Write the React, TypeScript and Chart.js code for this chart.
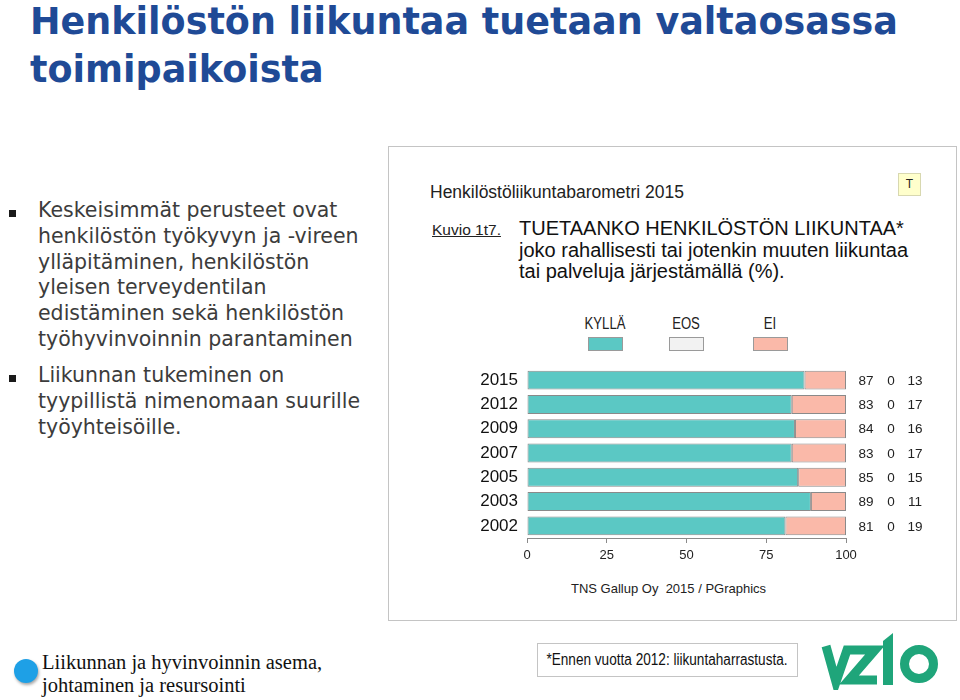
import React, { useEffect, useRef } from "react";
import { Chart, registerables } from "chart.js";

Chart.register(...registerables);

const years = ["2015", "2012", "2009", "2007", "2005", "2003", "2002"];
const kylla = [87, 83, 84, 83, 85, 89, 81];
const eos = [0, 0, 0, 0, 0, 0, 0];
const ei = [13, 17, 16, 17, 15, 11, 19];
const seriesNames = ["KYLLÄ", "EOS", "EI"];
const seriesColors = ["#5BC8C4", "#F2F2F2", "#FAB9A9"];
const xTickValues = [0, 25, 50, 75, 100];

const bullets1 = [
  "Keskeisimmät perusteet ovat",
  "henkilöstön työkyvyn ja -vireen",
  "ylläpitäminen, henkilöstön",
  "yleisen terveydentilan",
  "edistäminen sekä henkilöstön",
  "työhyvinvoinnin parantaminen",
];
const bullets2 = [
  "Liikunnan tukeminen on",
  "tyypillistä nimenomaan suurille",
  "työyhteisöille.",
];

const valueLabels = {
  id: "valueLabels",
  afterDatasetsDraw(chart: any) {
    const { ctx, chartArea, scales } = chart;
    const cols = [kylla, eos, ei];
    const offsets = [20, 45, 69];
    ctx.save();
    ctx.font = "13.5px 'Liberation Sans', Arial, sans-serif";
    ctx.fillStyle = "#222";
    ctx.textAlign = "center";
    ctx.textBaseline = "middle";
    years.forEach((_, i) => {
      const y = scales.y.getPixelForValue(i);
      cols.forEach((arr, c) => {
        ctx.fillText(String(arr[i]), chartArea.right + offsets[c], y + 1);
      });
    });
    ctx.restore();
  },
};

function BarChart() {
  const ref = useRef<HTMLCanvasElement | null>(null);
  useEffect(() => {
    if (!ref.current) return;
    const chart = new Chart(ref.current, {
      type: "bar",
      data: {
        labels: years,
        datasets: [kylla, eos, ei].map((d, i) => ({
          label: seriesNames[i],
          data: d,
          backgroundColor: seriesColors[i],
          borderColor: "#8a8a8a",
          borderWidth: 1,
          borderSkipped: false,
          categoryPercentage: 1,
          barPercentage: 0.78,
        })),
      },
      options: {
        indexAxis: "y",
        animation: false,
        responsive: false,
        maintainAspectRatio: false,
        layout: { padding: { left: 0, right: 111, top: 10, bottom: 0 } },
        plugins: { legend: { display: false }, tooltip: { enabled: false } },
        scales: {
          x: {
            stacked: true,
            min: 0,
            max: 100,
            afterFit: (s: any) => {
              s.height = 35;
              s.paddingLeft = 0;
              s.paddingRight = 0;
            },
            afterBuildTicks: (s: any) => {
              s.ticks = xTickValues.map((v) => ({ value: v }));
            },
            ticks: {
              font: { family: "'Liberation Sans', Arial, sans-serif", size: 13 },
              color: "#222",
              padding: 5,
              maxRotation: 0,
            },
            grid: {
              drawOnChartArea: false,
              drawTicks: true,
              tickLength: 5,
              color: "#8a8a8a",
            },
            border: { display: true, color: "#8a8a8a", width: 1 },
          },
          y: {
            stacked: true,
            afterFit: (s: any) => {
              s.width = 139;
              s.paddingTop = 0;
              s.paddingBottom = 0;
            },
            ticks: {
              font: { family: "'Liberation Sans', Arial, sans-serif", size: 17 },
              color: "#111",
              padding: 9,
              autoSkip: false,
            },
            grid: { display: false, drawTicks: false, tickLength: 0 },
            border: { display: false },
          },
        },
      },
      plugins: [valueLabels],
    });
    return () => chart.destroy();
  }, []);
  return (
    <canvas
      ref={ref}
      width={569}
      height={215}
      style={{ position: "absolute", left: 388, top: 358, width: 569, height: 215 }}
    />
  );
}

const abs = (o: React.CSSProperties): React.CSSProperties => ({ position: "absolute", ...o });

export default function App() {
  const sans = "'DejaVu Sans', sans-serif";
  const arial = "'Liberation Sans', Arial, sans-serif";
  const legendX = [605, 686, 770];
  return (
    <div
      style={abs({
        left: 0,
        top: 0,
        width: 960,
        height: 700,
        background: "#fff",
        overflow: "hidden",
      })}
    >
      {/* Title */}
      <div
        style={abs({
          left: 30,
          top: -2,
          fontFamily: sans,
          fontWeight: "bold",
          fontSize: 36.5,
          lineHeight: "48px",
          color: "#1F4A96",
          whiteSpace: "nowrap",
        })}
      >
        Henkilöstön liikuntaa tuetaan valtaosassa
        <br />
        toimipaikoista
      </div>

      {/* Bullets */}
      {[
        { lines: bullets1, top: 198, sq: 210 },
        { lines: bullets2, top: 363, sq: 375 },
      ].map((b, k) => (
        <React.Fragment key={k}>
          <div style={abs({ left: 9, top: b.sq, width: 7, height: 7, background: "#1a1a1a" })} />
          <div
            style={abs({
              left: 38,
              top: b.top,
              fontFamily: sans,
              fontSize: 20.5,
              lineHeight: "25.8px",
              color: "#3c3c3c",
              whiteSpace: "nowrap",
            })}
          >
            {b.lines.map((l, i) => (
              <div key={i}>{l}</div>
            ))}
          </div>
        </React.Fragment>
      ))}

      {/* Chart panel */}
      <div
        style={abs({
          left: 388,
          top: 146,
          width: 569,
          height: 475,
          border: "1px solid #c4c4c4",
          boxSizing: "border-box",
        })}
      />
      <div style={abs({ left: 430, top: 182, fontFamily: arial, fontSize: 17.5, color: "#222", whiteSpace: "nowrap" })}>
        Henkilöstöliikuntabarometri 2015
      </div>
      <div
        style={abs({
          left: 898,
          top: 173,
          width: 23,
          height: 23,
          background: "#FFFFCC",
          border: "1px solid #d8d8b0",
          boxSizing: "border-box",
          fontFamily: arial,
          fontSize: 12,
          lineHeight: "21px",
          textAlign: "center",
          color: "#222",
        })}
      >
        T
      </div>
      <div
        style={abs({
          left: 432,
          top: 221,
          fontFamily: arial,
          fontSize: 15.5,
          color: "#222",
          textDecoration: "underline",
          whiteSpace: "nowrap",
        })}
      >
        Kuvio 1t7.
      </div>
      <div
        style={abs({
          left: 519,
          top: 218,
          fontFamily: arial,
          fontSize: 20,
          lineHeight: "21.5px",
          color: "#111",
          whiteSpace: "nowrap",
        })}
      >
        TUETAANKO HENKILÖSTÖN LIIKUNTAA*
        <br />
        joko rahallisesti tai jotenkin muuten liikuntaa
        <br />
        tai palveluja järjestämällä (%).
      </div>

      {/* Legend */}
      {seriesNames.map((n, i) => (
        <React.Fragment key={n}>
          <div
            style={abs({
              left: legendX[i] - 40,
              top: 315,
              width: 80,
              textAlign: "center",
              fontFamily: arial,
              fontSize: 16,
              color: "#222",
              transform: "scaleX(0.82)",
            })}
          >
            {n}
          </div>
          <div
            style={abs({
              left: legendX[i] - 17,
              top: 337,
              width: 35,
              height: 14,
              background: seriesColors[i],
              border: "1px solid #9a9a9a",
              boxSizing: "border-box",
            })}
          />
        </React.Fragment>
      ))}

      <BarChart />

      <div
        style={abs({
          left: 571,
          top: 581,
          fontFamily: arial,
          fontSize: 13,
          color: "#222",
          whiteSpace: "pre",
        })}
      >
        {"TNS Gallup Oy  2015 / PGraphics"}
      </div>

      {/* Footer */}
      <div
        style={abs({
          left: 14,
          top: 659,
          width: 24,
          height: 24,
          borderRadius: "50%",
          background: "#1EA0E6",
          boxShadow: "1px 2px 3px rgba(0,0,0,0.35)",
        })}
      />
      <div
        style={abs({
          left: 42,
          top: 651,
          fontFamily: "'Liberation Serif', 'DejaVu Serif', serif",
          fontSize: 20.5,
          lineHeight: "23px",
          color: "#111",
          whiteSpace: "nowrap",
        })}
      >
        Liikunnan ja hyvinvoinnin asema,
        <br />
        johtaminen ja resursointi
      </div>
      <div
        style={abs({
          left: 537,
          top: 643,
          width: 261,
          height: 34,
          border: "1px solid #c4c4c4",
          boxSizing: "border-box",
        })}
      />
      <div
        style={abs({
          left: 507,
          top: 643,
          width: 320,
          height: 34,
          fontFamily: arial,
          fontSize: 16,
          lineHeight: "33px",
          textAlign: "center",
          color: "#111",
          whiteSpace: "nowrap",
          transform: "scaleX(0.85)",
        })}
      >
        *Ennen vuotta 2012: liikuntaharrastusta.
      </div>
      <svg style={abs({ left: 815, top: 628, width: 140, height: 62 })} viewBox="815 628 140 62">
        <g fill="none" stroke="#1FA57A" strokeWidth={9} strokeLinejoin="miter" strokeLinecap="butt">
          <polyline points="826,646 836,682 847,650 875,650 849,680 877,680" />
        </g>
        <polygon points="883,641 893,633 893,685 883,685" fill="#1FA57A" />
        <circle cx={919} cy={664} r={14.5} fill="none" stroke="#1FA57A" strokeWidth={9} />
      </svg>
    </div>
  );
}
